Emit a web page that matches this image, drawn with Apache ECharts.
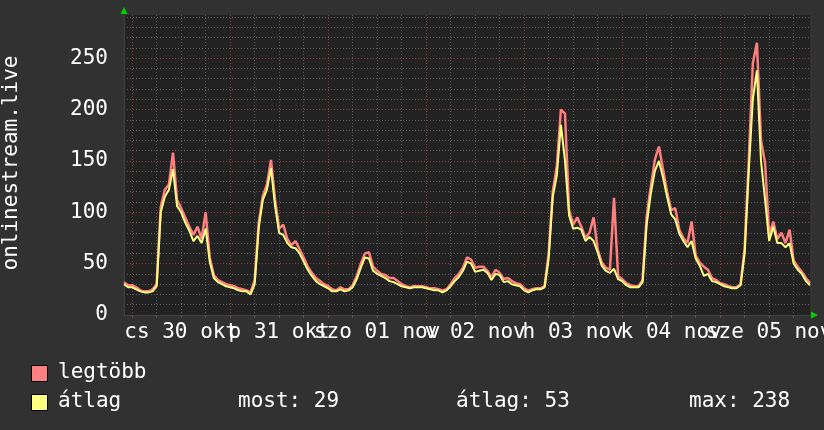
<!DOCTYPE html>
<html>
<head>
<meta charset="utf-8">
<script src="https://cdn.jsdelivr.net/npm/echarts@6/dist/echarts.min.js"></script>
<style>
html,body{margin:0;padding:0;background:#313131;}
#c{width:824px;height:430px;}
</style>
</head>
<body>
<div id="c"></div>
<script>
// hourly samples, from 29 Oct 22:00 to 5 Nov 22:00
const hours = [];
for (let h = -2; h <= 166; h++) hours.push(String(h));

const dayLabels = ['cs 30 okt', 'p 31 okt', 'szo 01 nov', 'v 02 nov', 'h 03 nov', 'k 04 nov', 'sze 05 nov'];
const yTicks = [0, 50, 100, 150, 200, 250];

const avgValues = [
  30, 27,
  27, 25, 23, 22, 22, 23, 28, 100, 115, 122, 142, 106, 100, 90, 82, 72, 77, 70, 84, 52, 36, 32, 30, 28,
  27, 26, 24, 23, 23, 20, 30, 85, 112, 122, 143, 106, 80, 78, 70, 66, 65, 60, 52, 44, 38, 33, 30, 28,
  26, 23, 23, 25, 23, 24, 27, 35, 46, 56, 55, 43, 40, 38, 36, 33, 32, 30, 28, 27, 26, 27, 27, 27,
  26, 25, 24, 24, 22, 24, 28, 33, 37, 43, 52, 50, 42, 43, 44, 41, 34, 40, 39, 32, 33, 30, 29, 28,
  24, 22, 24, 25, 25, 27, 55, 115, 136, 185, 150, 97, 84, 85, 83, 72, 76, 72, 61, 48, 43, 41, 45, 35,
  33, 29, 27, 27, 27, 32, 88, 118, 140, 150, 134, 115, 98, 93, 79, 72, 66, 72, 55, 48, 38, 40, 33, 32,
  30, 28, 27, 26, 26, 29, 60, 140, 210, 238, 150, 112, 72, 86, 70, 70, 66, 70, 50, 44, 40, 33, 29
];
const maxValues = [
  32, 29,
  29, 27, 24, 23, 23, 25, 30, 105, 122, 127, 158, 112, 104, 95, 86, 78, 86, 74, 100, 56, 39, 34, 32, 30,
  29, 28, 26, 25, 24, 22, 34, 90, 116, 127, 151, 112, 84, 88, 74, 68, 72, 64, 56, 47, 41, 36, 33, 30,
  28, 25, 24, 27, 25, 25, 29, 38, 50, 60, 61, 47, 43, 40, 39, 36, 36, 33, 30, 28, 27, 28, 28, 28,
  27, 26, 26, 25, 24, 25, 30, 36, 40, 46, 56, 54, 46, 47, 47, 43, 37, 44, 41, 35, 36, 33, 31, 30,
  26, 24, 25, 26, 26, 28, 60, 120, 145, 200, 196, 102, 88, 95, 86, 75, 80, 95, 64, 51, 46, 44, 114, 38,
  35, 31, 29, 28, 28, 34, 96, 125, 151, 164, 142, 120, 102, 104, 83, 75, 70, 91, 58, 51, 47, 44, 36, 34,
  31, 30, 28, 27, 27, 30, 65, 150, 245, 265, 170, 148, 78, 91, 74, 80, 70, 83, 53, 47, 42, 36, 31
];

const legendNames = ['legtöbb', 'átlag'];
const statTexts = ['most: 29', 'átlag: 53', 'max: 238'];

const FONT = '"DejaVu Sans Mono", monospace';
const FS = 21;
const minorColor = '#5a5a5a';
const majorColor = '#8a3a3a';

function dayLabelAxis(offsetIdx) {
  // shows every other day label (noon positions), so labels on one axis never overlap
  return {
    type: 'category', data: hours, boundaryGap: false, position: 'bottom',
    axisLine: {show: false}, axisTick: {show: false}, splitLine: {show: false},
    axisLabel: {
      interval: (i) => i % 48 === offsetIdx,
      formatter: (v, i) => (i % 48 === offsetIdx ? dayLabels[(i - 14) / 24] : ''),
      showMinLabel: true, showMaxLabel: true, hideOverlap: false,
      color: '#ffffff', fontFamily: FONT, fontSize: FS, margin: 7
    }
  };
}

const chart = echarts.init(document.getElementById('c'), null, {renderer: 'canvas'});
chart.setOption({
  backgroundColor: '#313131',
  animation: false,
  grid: {left: 124, right: 14, top: 15, bottom: 115, show: true, backgroundColor: '#222222', borderWidth: 0,
    containLabel: false, outerBoundsMode: 'none'},
  xAxis: [
    {
      type: 'category', data: hours, boundaryGap: false,
      axisLine: {show: true, lineStyle: {color: '#404040', width: 1}},
      axisTick: {show: true, interval: (i) => i % 6 === 2, length: 3, lineStyle: {color: '#555'}},
      axisLabel: {show: false},
      splitLine: {show: true, interval: (i) => i % 6 === 2 && i % 24 !== 2,
        lineStyle: {color: minorColor, type: [1, 2], width: 1}}
    },
    {
      type: 'category', data: hours, boundaryGap: false, position: 'bottom',
      axisLine: {show: false}, axisTick: {show: false}, axisLabel: {show: false},
      splitLine: {show: true, interval: (i) => i % 24 === 2,
        lineStyle: {color: majorColor, type: [1, 2], width: 1}}
    },
    dayLabelAxis(14),
    dayLabelAxis(38)
  ],
  yAxis: [
    {
      type: 'value', min: 0, max: 292, interval: 10,
      axisLine: {show: true, lineStyle: {color: '#404040'}}, axisTick: {show: false},
      axisLabel: {show: false},
      splitLine: {show: true, showMaxLine: false,
        lineStyle: {color: ['rgba(0,0,0,0)', minorColor, minorColor, minorColor, minorColor], type: [1, 2], width: 1}}
    },
    {
      type: 'value', min: 0, max: 292, interval: 50, position: 'left',
      axisLine: {show: false}, axisTick: {show: false},
      axisLabel: {
        formatter: (v) => (yTicks.indexOf(v) >= 0 ? String(v) : ''),
        color: '#ffffff', fontFamily: FONT, fontSize: FS, margin: 16
      },
      splitLine: {show: true, showMaxLine: false, showMinLine: false,
        lineStyle: {color: majorColor, type: [1, 2], width: 1}}
    }
  ],
  series: [
    {
      name: legendNames[0], type: 'line', data: maxValues, xAxisIndex: 0, yAxisIndex: 0,
      symbol: 'none', lineStyle: {color: '#ff7f7f', width: 2.5}, z: 3
    },
    {
      name: legendNames[1], type: 'line', data: avgValues, xAxisIndex: 0, yAxisIndex: 0,
      symbol: 'none', lineStyle: {color: '#ffff7f', width: 2}, z: 4
    }
  ],
  graphic: [
    {type: 'text', x: 12, y: 163, rotation: Math.PI / 2,
      style: {text: 'onlinestream.live', fill: '#ffffff', font: FS + 'px ' + FONT, align: 'center', verticalAlign: 'middle'}},
    {type: 'polygon', shape: {points: [[120.5, 14], [127.5, 14], [124, 7]]}, style: {fill: '#00d000'}},
    {type: 'polygon', shape: {points: [[811, 311.5], [811, 318.5], [818, 315]]}, style: {fill: '#00d000'}},
    {type: 'rect', shape: {x: 31.5, y: 365.5, width: 16, height: 16}, style: {fill: '#ff8080', stroke: '#000', lineWidth: 1}},
    {type: 'rect', shape: {x: 31.5, y: 394.5, width: 16, height: 16}, style: {fill: '#ffff80', stroke: '#000', lineWidth: 1}},
    {type: 'text', x: 58, y: 373, style: {text: legendNames[0], fill: '#fff', font: FS + 'px ' + FONT, verticalAlign: 'middle'}},
    {type: 'text', x: 58, y: 402, style: {text: legendNames[1], fill: '#fff', font: FS + 'px ' + FONT, verticalAlign: 'middle'}},
    {type: 'text', x: 238, y: 402, style: {text: statTexts[0], fill: '#fff', font: FS + 'px ' + FONT, verticalAlign: 'middle'}},
    {type: 'text', x: 456, y: 402, style: {text: statTexts[1], fill: '#fff', font: FS + 'px ' + FONT, verticalAlign: 'middle'}},
    {type: 'text', x: 689, y: 402, style: {text: statTexts[2], fill: '#fff', font: FS + 'px ' + FONT, verticalAlign: 'middle'}}
  ]
});
</script>
</body>
</html>
